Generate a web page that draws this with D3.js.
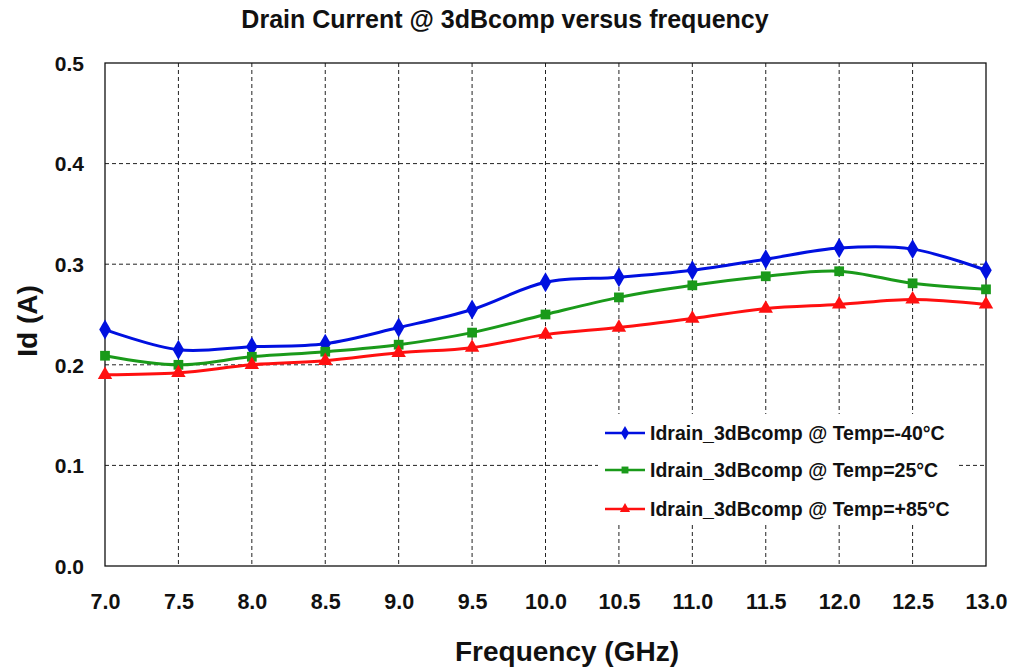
<!DOCTYPE html>
<html><head><meta charset="utf-8">
<script src="https://cdn.jsdelivr.net/npm/d3@7"></script>
<style>body{margin:0;background:#fff;}svg{display:block;}</style>
</head><body>
<svg id="c" width="1010" height="671"></svg>
<script>
const freq = [7.0,7.5,8.0,8.5,9.0,9.5,10.0,10.5,11.0,11.5,12.0,12.5,13.0];
const idM40 = [0.235,0.215,0.218,0.221,0.237,0.255,0.282,0.287,0.294,0.305,0.316,0.315,0.294];
const id25  = [0.209,0.200,0.208,0.213,0.220,0.232,0.250,0.267,0.279,0.288,0.293,0.281,0.275];
const idP85 = [0.190,0.192,0.200,0.204,0.212,0.217,0.230,0.237,0.246,0.256,0.260,0.265,0.260];
const seriesNames = ["Idrain_3dBcomp @ Temp=-40°C","Idrain_3dBcomp @ Temp=25°C","Idrain_3dBcomp @ Temp=+85°C"];
const xTicks = [7.0,7.5,8.0,8.5,9.0,9.5,10.0,10.5,11.0,11.5,12.0,12.5,13.0];
const yTicks = [0.0,0.1,0.2,0.3,0.4,0.5];

const FONT = "'Liberation Sans',Arial,sans-serif";
const svg = d3.select("#c");
const L=105,R=986,T=63,B=566;
const x = d3.scaleLinear().domain([7,13]).range([L,R]);
const y = d3.scaleLinear().domain([0,0.5]).range([B,T]);

// grid
const g = svg.append("g");
g.selectAll(".vg").data(xTicks.slice(1,-1)).join("line")
 .attr("x1",d=>x(d)).attr("x2",d=>x(d)).attr("y1",T).attr("y2",B)
 .attr("stroke","#222").attr("stroke-width",1).attr("stroke-dasharray","4,3");
g.selectAll(".hg").data(yTicks.slice(1,-1)).join("line")
 .attr("x1",L).attr("x2",R).attr("y1",d=>y(d)).attr("y2",d=>y(d))
 .attr("stroke","#222").attr("stroke-width",1).attr("stroke-dasharray","4,3");
svg.append("rect").attr("x",L).attr("y",T).attr("width",R-L).attr("height",B-T)
 .attr("fill","none").attr("stroke","#111").attr("stroke-width",1.3);

// axes
const xa = svg.append("g").attr("transform",`translate(0,${B})`)
 .call(d3.axisBottom(x).tickValues(xTicks).tickFormat(d3.format(".1f")).tickSize(0).tickPadding(28));
xa.select(".domain").remove();
xa.selectAll("text").attr("font-family",FONT)
 .attr("font-weight","bold").attr("font-size","21.5px").attr("fill","#111");
const ya = svg.append("g").attr("transform",`translate(${L},0)`)
 .call(d3.axisLeft(y).tickValues(yTicks).tickFormat(d3.format(".1f")).tickSize(0).tickPadding(21));
ya.select(".domain").remove();
ya.selectAll("text").attr("font-family",FONT)
 .attr("font-weight","bold").attr("font-size","21px").attr("fill","#111").attr("dy","0.35em");

// titles
svg.append("text").attr("x",505).attr("y",28).attr("text-anchor","middle")
 .attr("font-family",FONT).attr("font-weight","bold").attr("font-size","25px").attr("fill","#111")
 .text("Drain Current @ 3dBcomp versus frequency");
svg.append("text").attr("x",567).attr("y",661).attr("text-anchor","middle")
 .attr("font-family",FONT).attr("font-weight","bold").attr("font-size","28px").attr("fill","#111")
 .text("Frequency (GHz)");
svg.append("text").attr("transform","translate(37,321) rotate(-90)").attr("text-anchor","middle")
 .attr("font-family",FONT).attr("font-weight","bold").attr("font-size","28px").attr("fill","#111")
 .text("Id (A)");

// series
const series = [
 {name:seriesNames[0], vals:idM40, color:"#0010e0", sym:d3.symbolDiamond, size:115},
 {name:seriesNames[1], vals:id25, color:"#1a9a1a", sym:d3.symbolSquare, size:95},
 {name:seriesNames[2], vals:idP85, color:"#ff1010", sym:d3.symbolTriangle, size:90}
];
const line = d3.line().x((d,i)=>x(freq[i])).y(d=>y(d)).curve(d3.curveCatmullRom.alpha(0.5));
series.forEach(s=>{
  svg.append("path").attr("d",line(s.vals)).attr("fill","none").attr("stroke",s.color).attr("stroke-width",3);
  svg.selectAll(null).data(s.vals).join("path")
   .attr("transform",(d,i)=>`translate(${x(freq[i])},${y(d)})`)
   .attr("d",d3.symbol().type(s.sym).size(s.size)).attr("fill",s.color);
});

// legend
const lg = svg.append("g");
lg.append("rect").attr("x",598).attr("y",414).attr("width",359).attr("height",110).attr("fill","#fff");
series.forEach((s,i)=>{
  const yy = [433,470,509][i];
  lg.append("line").attr("x1",605).attr("x2",645).attr("y1",yy).attr("y2",yy).attr("stroke",s.color).attr("stroke-width",2.5);
  lg.append("path").attr("transform",`translate(625,${yy})`).attr("d",d3.symbol().type(s.sym).size(s.size*0.5)).attr("fill",s.color);
  lg.append("text").attr("x",650).attr("y",yy).attr("dy","0.35em")
   .attr("font-family",FONT).attr("font-weight","bold").attr("font-size","19.5px").attr("fill","#111")
   .text(s.name);
});
</script>
</body></html>
